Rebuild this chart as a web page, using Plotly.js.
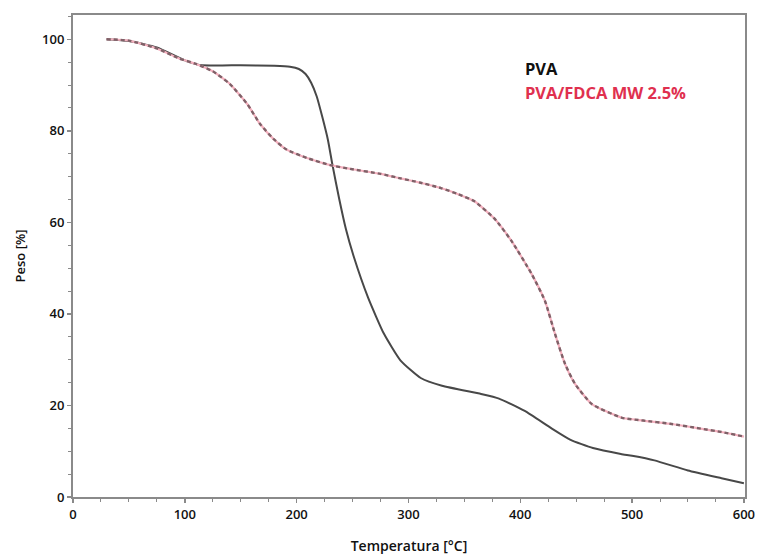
<!DOCTYPE html>
<html>
<head>
<meta charset="utf-8">
<script src="https://cdn.plot.ly/plotly-3.0.1.min.js"></script>
<style>html,body{margin:0;padding:0;background:#fff;}#chart{width:761px;height:557px;}</style>
</head>
<body>
<div id="chart"></div>
<script>
const pvaTemp = [30, 50, 75, 100, 113, 150, 180, 194, 202, 208, 213, 218, 223, 228, 232, 238, 244, 251, 264, 278, 293, 311, 330, 365, 381, 404, 428, 445, 465, 490, 500, 520, 550, 580, 600];
const pvaMass = [100, 99.6, 98.2, 95.4, 94.4, 94.3, 94.2, 94.0, 93.5, 92.4, 90.5, 87.5, 83.0, 78.0, 72.6, 65.2, 58.6, 52.6, 43.5, 35.7, 29.8, 26.0, 24.3, 22.5, 21.5, 18.8, 15.0, 12.5, 10.7, 9.4, 9.0, 8.0, 5.8, 4.1, 3.0];

const fdcaTemp = [30, 50, 75, 95, 110, 125, 140, 156, 167, 179, 191, 210, 230, 250, 275, 293, 310, 329, 345, 359, 377, 392, 410, 422, 431, 440, 449, 464, 491, 510, 534, 560, 580, 600];
const fdcaMass = [100, 99.7, 98.0, 95.8, 94.6, 93.0, 90.3, 85.8, 81.6, 78.3, 75.9, 74.0, 72.5, 71.6, 70.6, 69.6, 68.7, 67.5, 66.1, 64.6, 60.8, 56.0, 48.8, 42.9, 35.7, 29.1, 24.7, 20.3, 17.3, 16.7, 16.0, 15.0, 14.2, 13.2];

const seriesNames = ['PVA', 'PVA/FDCA MW 2.5%'];
const xTicks = [0, 100, 200, 300, 400, 500, 600];
const yTicks = [0, 20, 40, 60, 80, 100];

const traces = [
  {x: pvaTemp, y: pvaMass, name: seriesNames[0], mode: 'lines',
   line: {color: '#484848', width: 2, shape: 'spline', smoothing: 0.5}},
  {x: fdcaTemp, y: fdcaMass, name: seriesNames[1], mode: 'lines',
   line: {color: '#f4b0be', width: 2.2, shape: 'spline', smoothing: 0.5}},
  {x: fdcaTemp, y: fdcaMass, name: seriesNames[1], mode: 'lines',
   line: {color: '#7f6168', width: 2.4, dash: '4px,3px', shape: 'spline', smoothing: 0.5}}
];

const axisCommon = {
  showgrid: false, zeroline: false, showline: true, linecolor: '#8a8a8a', linewidth: 2,
  mirror: true, ticks: 'outside', ticklen: 4, tickcolor: '#8a8a8a', tickwidth: 1.5,
  tickfont: {family: 'Open Sans, sans-serif', size: 13, color: '#111', weight: 600}
};

const layout = {
  width: 761, height: 557,
  margin: {l: 73, r: 16, t: 15, b: 60},
  paper_bgcolor: '#fff', plot_bgcolor: '#fff',
  showlegend: false,
  xaxis: Object.assign({}, axisCommon, {
    range: [0, 601], tickvals: xTicks, ticktext: xTicks.map(String),
    minor: {dtick: 25, ticks: 'outside', ticklen: 3, tickcolor: '#8a8a8a', tickwidth: 1},
    title: {text: 'Temperatura [°C]', standoff: 20,
            font: {family: 'Open Sans, sans-serif', size: 14, color: '#111', weight: 600}}
  }),
  yaxis: Object.assign({}, axisCommon, {
    range: [0, 105.3], tickvals: yTicks, ticktext: yTicks.map(String),
    minor: {dtick: 5, ticks: 'outside', ticklen: 3, tickcolor: '#8a8a8a', tickwidth: 1},
    title: {text: 'Peso [%]', standoff: 14,
            font: {family: 'Open Sans, sans-serif', size: 13, color: '#111', weight: 600}}
  }),
  annotations: [
    {xref: 'paper', yref: 'paper', x: 0.670, y: 0.888, xanchor: 'left', yanchor: 'middle',
     text: '<b>' + seriesNames[0] + '</b>', showarrow: false,
     font: {family: 'Open Sans, sans-serif', size: 16.5, color: '#111'}},
    {xref: 'paper', yref: 'paper', x: 0.670, y: 0.840, xanchor: 'left', yanchor: 'middle',
     text: '<b>' + seriesNames[1] + '</b>', showarrow: false,
     font: {family: 'Open Sans, sans-serif', size: 16.5, color: '#e0304f'}}
  ]
};

Plotly.newPlot('chart', traces, layout, {displayModeBar: false, staticPlot: true});
</script>
</body>
</html>
